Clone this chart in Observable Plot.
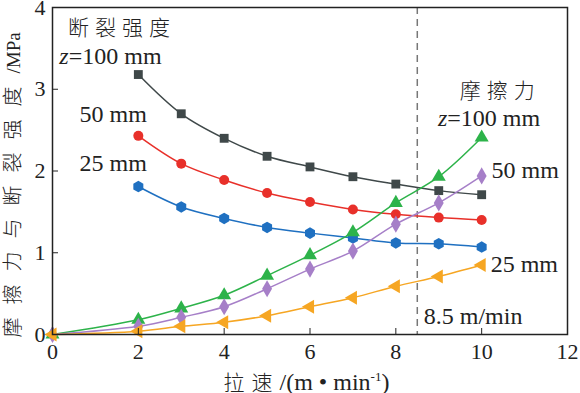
<!DOCTYPE html>
<html>
<head>
<meta charset="utf-8">
<script src="https://cdn.jsdelivr.net/npm/d3@7"></script>
<script src="https://cdn.jsdelivr.net/npm/@observablehq/plot@0.6"></script>
<style>
  html, body { margin: 0; padding: 0; background: #fff; }
  svg { display: block; }
  svg text { font-family: 'Liberation Serif', 'Times New Roman', serif; }
  svg g.cjk text, svg tspan.cjk { font-family: 'Noto Sans CJK SC', sans-serif; font-weight: 300; }
</style>
</head>
<body>
<div id="chart"></div>
<script>
// ---- data ----
const speeds = [2, 3, 4, 5, 6, 7, 8, 9, 10];
const speedsF = [0, 2, 3, 4, 5, 6, 7, 8, 9, 10];
const strength100 = [3.18, 2.70, 2.40, 2.18, 2.05, 1.93, 1.84, 1.76, 1.71];
const strength50  = [2.43, 2.09, 1.89, 1.73, 1.62, 1.53, 1.47, 1.43, 1.40];
const strength25  = [1.81, 1.56, 1.42, 1.31, 1.24, 1.18, 1.12, 1.11, 1.07];
const friction100 = [0, 0.18, 0.32, 0.48, 0.72, 0.97, 1.25, 1.61, 1.93, 2.41];
const friction50  = [0, 0.10, 0.21, 0.34, 0.56, 0.80, 1.02, 1.35, 1.61, 1.94];
const friction25  = [0, 0.04, 0.10, 0.15, 0.23, 0.34, 0.45, 0.59, 0.71, 0.85];
const xTicks = [0, 2, 4, 6, 8, 10, 12];
const yTicks = [0, 1, 2, 3, 4];
const criticalSpeed = [8.5];
const xLabelParts = [
  {t: "拉速", cjk: true},
  {t: "/(m • min"},
  {t: "-1", sup: true},
  {t: ")"}
];
const yLabelParts = [
  {t: "摩擦力与断裂强度", cjk: true},
  {t: "/MPa", small: true}
];

const annotations = [
  {x: 0.36, y: 3.74, text: "断裂强度", cjk: true},
  {x: 0.16, y: 3.40, text: "z=100 mm"},
  {x: 0.63, y: 2.69, text: "50 mm"},
  {x: 0.63, y: 2.09, text: "25 mm"},
  {x: 9.49, y: 2.98, text: "摩擦力", cjk: true},
  {x: 8.98, y: 2.65, text: "z=100 mm"},
  {x: 10.23, y: 2.01, text: "50 mm"},
  {x: 10.21, y: 0.86, text: "25 mm"},
  {x: 8.65, y: 0.22, text: "8.5 m/min"}
];

// left-pointing triangle symbol
const triangleLeft = {
  draw(context, size) {
    const y = -Math.sqrt(size / (Math.sqrt(3) * 3));
    context.moveTo(y * 2, 0);
    context.lineTo(-y, -Math.sqrt(3) * y);
    context.lineTo(-y, Math.sqrt(3) * y);
    context.closePath();
  }
};

const series = [
  {xs: speeds, ys: strength100, color: "#3f4849", symbol: "square", r: 5},
  {xs: speeds, ys: strength50, color: "#e8302a", symbol: "circle", r: 5},
  {xs: speeds, ys: strength25, color: "#1f70c1", symbol: "hexagon", r: 5},
  {xs: speedsF, ys: friction100, color: "#2db34a", symbol: "triangle", r: 5.2},
  {xs: speedsF, ys: friction50, color: "#a67fc8", symbol: "diamond", r: 5.2},
  {xs: speedsF, ys: friction25, color: "#f6a623", symbol: triangleLeft, r: 5.2}
];

const marks = [];
marks.push(Plot.ruleX(criticalSpeed, {stroke: "#777", strokeWidth: 1.5, strokeDasharray: "7,5"}));
for (const s of series) {
  const data = s.xs.map((x, i) => ({x, y: s.ys[i]}));
  marks.push(Plot.line(data, {x: "x", y: "y", stroke: s.color, strokeWidth: 1.5, curve: "catmull-rom"}));
  marks.push(Plot.dot(data, {x: "x", y: "y", fill: s.color, symbol: () => s.symbol, r: s.r, stroke: "none"}));
}
marks.push(Plot.text(annotations.filter(d => !d.cjk), {
  x: "x", y: "y", text: "text", textAnchor: "start", fontSize: 24, fill: "#222"
}));
marks.push(Plot.text(annotations.filter(d => d.cjk), {
  x: "x", y: "y", text: "text", textAnchor: "start", fontSize: 21, fill: "#222", className: "cjk"
}));
marks.push(Plot.frame({stroke: "#222", strokeWidth: 1.5}));
marks.push(Plot.axisX({ticks: xTicks, tickSize: -6, tickPadding: 15, fontSize: 22, label: null, tickFormat: d => String(d)}));
marks.push(Plot.axisY({ticks: yTicks, tickSize: -6, tickPadding: 13, fontSize: 22, label: null, tickFormat: d => String(d)}));
marks.push(Plot.text(["XLABEL"], {frameAnchor: "bottom-left", dx: 171, dy: 48, textAnchor: "start", lineAnchor: "middle", fontSize: 24, fill: "#222"}));
marks.push(Plot.text(["YLABEL"], {frameAnchor: "bottom-left", dx: -40, dy: 3, rotate: -90, textAnchor: "start", lineAnchor: "middle", fontSize: 22, fill: "#222"}));

const chart = Plot.plot({
  width: 580,
  height: 393,
  marginLeft: 52,
  marginRight: 13,
  marginTop: 7,
  marginBottom: 59,
  style: {color: "#222", background: "#fff"},
  x: {domain: [0, 12]},
  y: {domain: [0, 4]},
  marks
});

function fillParts(sel, parts, cjkSize, cjkSpacing) {
  sel.text(null);
  parts.forEach((p, i) => {
    const ts = sel.append("tspan").text(p.t);
    if (p.cjk) ts.attr("class", "cjk").style("font-size", cjkSize + "px").style("letter-spacing", cjkSpacing + "px");
    if (p.small) ts.style("font-size", "19px");
    if (p.sup) ts.style("font-size", "13px").attr("dy", -9);
    else if (i > 0 && parts[i - 1].sup) ts.attr("dy", 9);
  });
}

d3.select(chart).selectAll("text").each(function() {
  const t = this.textContent;
  const sel = d3.select(this);
  if (t.startsWith("z=")) {
    sel.text(null);
    sel.append("tspan").attr("font-style", "italic").text("z");
    sel.append("tspan").text(t.slice(1));
  } else if (t === "XLABEL") {
    fillParts(sel, xLabelParts, 21, 7);
  } else if (t === "YLABEL") {
    fillParts(sel, yLabelParts, 20, 13);
  } else if (t === "断裂强度" || t === "摩擦力") {
    sel.style("letter-spacing", "6px");
  }
});

document.getElementById("chart").appendChild(chart);
</script>
</body>
</html>
